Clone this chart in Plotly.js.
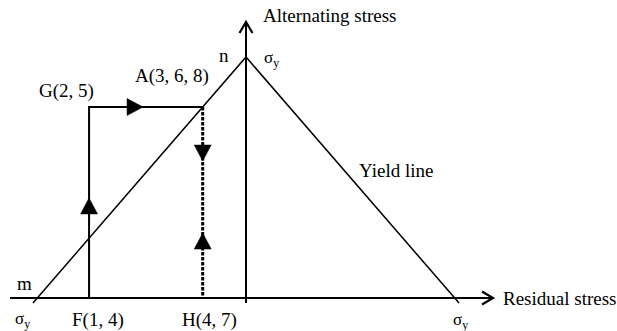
<!DOCTYPE html>
<html>
<head>
<meta charset="utf-8">
<script src="https://cdn.plot.ly/plotly-3.0.1.min.js"></script>
<style>
  html, body { margin: 0; padding: 0; background: #fff; }
  #chart { width: 617px; height: 331px; }
</style>
</head>
<body>
<div id="chart"></div>
<script>
// Stresses in units of the yield stress σy
const sigmaY = 1;
const yieldResidual = [-sigmaY, 0, sigmaY];
const yieldAlternating = [0, sigmaY, 0];

// Loading path F -> G -> A (A lies on the yield line)
const loadResidual = [-0.752, -0.752, -0.2075];
const loadAlternating = [0, 0.7925, 0.7925];

// Unloading path A -> H
const unloadResidual = [-0.2075, -0.2075];
const unloadAlternating = [0.7925, 0];

// Labels
const pointLabels = ['F(1, 4)', 'G(2, 5)', 'A(3, 6, 8)', 'H(4, 7)'];
const axisTitles = ['Residual stress', 'Alternating stress'];
const cornerLabels = ['m', 'n'];
const yieldLabel = 'Yield line';
const sigmaLabel = 'σ<sub>y</sub>';

// ---- drawing setup ----
const W = 617, H = 331;
const originPx = { x: 246, y: 298 };   // where the two stress axes cross
const pxPerX = 208.7;                  // pixels per σy along residual stress
const pxPerY = 241;                    // pixels per σy along alternating stress
const dx = p => p / pxPerX;            // pixel offset -> data units
const dy = p => p / pxPerY;

const xRange = [-originPx.x / pxPerX, (W - originPx.x) / pxPerX];
const yRange = [-(H - originPx.y) / pxPerY, originPx.y / pxPerY];

const axisX = [dx(10 - originPx.x), dx(493 - originPx.x)];
const axisY = [-dy(5), dy(originPx.y - 22)];
const overshoot = dy(5);               // yield lines run slightly past the axis

const black = '#000';
const traces = [];
function line(x, y, width, dash) {
  traces.push({
    type: 'scatter', mode: 'lines', x, y, hoverinfo: 'skip',
    line: { color: black, width, dash: dash || 'solid' }
  });
}

// axes
line(axisX, [0, 0], 2);
line([0, 0], axisY, 2);
// open arrow heads on the axes
line([axisX[1] - dx(11), axisX[1], axisX[1] - dx(11)], [dy(6.5), 0, -dy(6.5)], 2.2);
line([-dx(6.5), 0, dx(6.5)], [axisY[1] - dy(11), axisY[1], axisY[1] - dy(11)], 2.2);

// yield line
line(
  [yieldResidual[0] - overshoot * sigmaY, yieldResidual[1], yieldResidual[2] + overshoot * sigmaY],
  [yieldAlternating[0] - overshoot, yieldAlternating[1], yieldAlternating[2] - overshoot],
  1.5
);

// load and unload paths
line(loadResidual, loadAlternating, 2);
line(unloadResidual, unloadAlternating, 3, '3.5px,1.5px');

// filled direction arrows placed along a segment (t = fraction where the tip sits)
function arrowOn(x0, y0, x1, y1, t) {
  const tipX = x0 + (x1 - x0) * t, tipY = y0 + (y1 - y0) * t;
  const vx = (x1 - x0) * pxPerX, vy = (y1 - y0) * pxPerY;
  const len = Math.hypot(vx, vy), ux = vx / len, uy = vy / len;
  const L = 16, hw = 8.5;
  const bx = -ux * L, by = -uy * L;
  const px = -uy * hw, py = ux * hw;
  traces.push({
    type: 'scatter', mode: 'lines', fill: 'toself', fillcolor: black,
    hoverinfo: 'skip', line: { width: 0.5, color: black },
    x: [tipX, tipX + dx(bx + px), tipX + dx(bx - px), tipX],
    y: [tipY, tipY + dy(by + py), tipY + dy(by - py), tipY]
  });
}
arrowOn(loadResidual[0], loadAlternating[0], loadResidual[1], loadAlternating[1], 0.524);
arrowOn(loadResidual[1], loadAlternating[1], loadResidual[2], loadAlternating[2], 0.475);
arrowOn(unloadResidual[0], unloadAlternating[0], unloadResidual[1], unloadAlternating[1], 0.283);
arrowOn(unloadResidual[1], unloadAlternating[1], unloadResidual[0], unloadAlternating[0], 0.34);

// ---- text ----
const font = { family: '"Liberation Serif", "Times New Roman", Times, serif', size: 19, color: black };
const sigmaFont = Object.assign({}, font, { size: 17 });
function label(text, x, y, xs, ys, opts) {
  return Object.assign({
    text, x, y, xref: 'x', yref: 'y', showarrow: false,
    xshift: xs, yshift: ys, xanchor: 'center', yanchor: 'middle', font
  }, opts || {});
}
const annotations = [
  label(axisTitles[1], 0, axisY[1], 15, 7, { xanchor: 'left' }),
  label(axisTitles[0], axisX[1], 0, 8, 0, { xanchor: 'left' }),
  label(cornerLabels[1], yieldResidual[1], yieldAlternating[1], -22, 2),
  label(sigmaLabel, yieldResidual[1], yieldAlternating[1], 25, -2, { font: sigmaFont }),
  label(cornerLabels[0], yieldResidual[0], yieldAlternating[0], -13, 15),
  label(sigmaLabel, yieldResidual[0], yieldAlternating[0], -15, -22, { font: sigmaFont }),
  label(sigmaLabel, yieldResidual[2], yieldAlternating[2], 6, -23, { font: sigmaFont }),
  label(pointLabels[0], loadResidual[0], loadAlternating[0], 8.5, -22),
  label(pointLabels[1], loadResidual[1], loadAlternating[1], -23, 16),
  label(pointLabels[2], loadResidual[2], loadAlternating[2], -31, 31),
  label(pointLabels[3], unloadResidual[1], unloadAlternating[1], 7, -22),
  label(yieldLabel, 0.469, 0.531, 52, 0)
];

const hidden = { visible: false, fixedrange: true };
const layout = {
  width: W, height: H,
  margin: { l: 0, r: 0, t: 0, b: 0, pad: 0 },
  paper_bgcolor: '#fff', plot_bgcolor: '#fff',
  showlegend: false,
  font: { family: font.family },
  xaxis: Object.assign({ range: xRange }, hidden),
  yaxis: Object.assign({ range: yRange }, hidden),
  annotations
};

Plotly.newPlot('chart', traces, layout, { staticPlot: true, displayModeBar: false });
</script>
</body>
</html>
